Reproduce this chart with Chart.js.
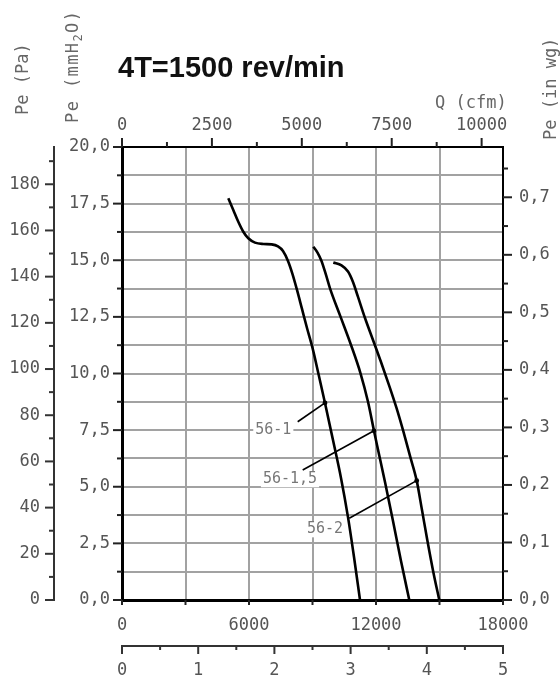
<!DOCTYPE html>
<html><head><meta charset="utf-8">
<script src="https://cdn.jsdelivr.net/npm/chart.js@4/dist/chart.umd.min.js"></script>
<style>html,body{margin:0;padding:0;background:#fff}canvas{display:block}</style>
</head><body>
<canvas id="c" width="560" height="683"></canvas>
<script>
// ---- Data (flow Q in m3/h, static pressure Pe in mmH2O) ----
const titleText = '4T=1500 rev/min';

const curve1Name = '56-1';
const curve1Q = [5022, 5258, 5494, 5731, 5967, 6283, 6676, 7072, 7370, 7606, 7842, 8055, 8268, 8504, 8740, 9000, 9283, 9590, 9968, 10346, 10677, 10961, 11244];
const curve1P = [17.74, 17.22, 16.70, 16.26, 15.97, 15.78, 15.72, 15.70, 15.61, 15.41, 14.97, 14.39, 13.69, 12.85, 12.01, 11.13, 9.98, 8.70, 7.06, 5.39, 3.66, 1.90, 0];

const curve2Name = '56-1,5';
const curve2Q = [9038, 9236, 9425, 9638, 9827, 10323, 10819, 11268, 11622, 11905, 12047, 12425, 12803, 13181, 13573];
const curve2P = [15.60, 15.34, 14.97, 14.35, 13.76, 12.51, 11.26, 10.01, 8.75, 7.47, 6.84, 5.21, 3.49, 1.72, 0];

const curve3Name = '56-2';
const curve3Q = [9983, 10370, 10677, 10913, 11150, 11480, 11858, 12236, 12614, 12968, 13299, 13606, 13923, 14173, 14423, 14707, 14990];
const curve3P = [14.90, 14.77, 14.50, 14.04, 13.38, 12.45, 11.48, 10.51, 9.49, 8.48, 7.42, 6.36, 5.27, 3.97, 2.65, 1.24, 0];

// leader lines: [marker on curve, label end]
const leaderQ = [[9590, 8300], [11905, 8537], [13923, 10737]];
const leaderP = [[8.70, 7.87], [7.47, 5.74], [5.27, 3.61]];
const labelNames = [curve1Name, curve2Name, curve3Name];
const labelQ = [7149, 7937, 9590];
const labelP = [7.51, 5.33, 3.12];

// ticks
const m3hTickValues = [0, 3000, 6000, 9000, 12000, 15000, 18000];
const m3hTickLabels = ['0', '', '6000', '', '12000', '', '18000'];
const m3sTickValues = [0, 0.5, 1, 1.5, 2, 2.5, 3, 3.5, 4, 4.5, 5];
const m3sTickLabels = ['0', '', '1', '', '2', '', '3', '', '4', '', '5'];
const cfmTickValues = [0, 1250, 2500, 3750, 5000, 6250, 7500, 8750, 10000];
const cfmTickLabels = ['0', '', '2500', '', '5000', '', '7500', '', '10000'];
const mmTickValues = [0, 1.25, 2.5, 3.75, 5, 6.25, 7.5, 8.75, 10, 11.25, 12.5, 13.75, 15, 16.25, 17.5, 18.75, 20];
const mmTickLabels = ['0,0', '', '2,5', '', '5,0', '', '7,5', '', '10,0', '', '12,5', '', '15,0', '', '17,5', '', '20,0'];
const paTickValues = [0, 10, 20, 30, 40, 50, 60, 70, 80, 90, 100, 110, 120, 130, 140, 150, 160, 170, 180, 190];
const paTickLabels = ['0', '', '20', '', '40', '', '60', '', '80', '', '100', '', '120', '', '140', '', '160', '', '180', ''];
const inwgTickValues = [0, 0.05, 0.1, 0.15, 0.2, 0.25, 0.3, 0.35, 0.4, 0.45, 0.5, 0.55, 0.6, 0.65, 0.7, 0.75];
const inwgTickLabels = ['0,0', '', '0,1', '', '0,2', '', '0,3', '', '0,4', '', '0,5', '', '0,6', '', '0,7', ''];

// unit conversions
const Q_MAX = 18000;          // m3/h
const P_MAX = 20;             // mmH2O
const M3H_PER_CFM = 1.699011;
const PA_PER_MM = 9.80665;
const MM_PER_INWG = 25.4;

// ---- Styling ----
const MONO = '"DejaVu Sans Mono", "Liberation Mono", monospace';
const tickColor = '#555';
const tickFont = {family: MONO, size: 17};

function pts(xs, ys) { return xs.map((x, i) => ({x: x, y: ys[i]})); }
function fixedTicks(values) { return s => { s.ticks = values.map(v => ({value: v})); }; }
function labelsFrom(labels) { return (v, i) => labels[i]; }

const datasets = [
  {data: pts(curve1Q, curve1P)},
  {data: pts(curve2Q, curve2P)},
  {data: pts(curve3Q, curve3P)}
].map(d => Object.assign(d, {borderColor: '#000', borderWidth: 2.6, pointRadius: 0,
  cubicInterpolationMode: 'monotone', fill: false, xAxisID: 'x', yAxisID: 'y'}));

leaderQ.forEach((q, k) => {
  datasets.push({data: pts(q, leaderP[k]), borderColor: '#000', borderWidth: 1.6,
    pointRadius: c => c.dataIndex === 0 ? 2.4 : 0, pointBackgroundColor: '#000', pointBorderWidth: 0,
    tension: 0, fill: false, xAxisID: 'x', yAxisID: 'y'});
});

const tickSpec = {
  x:  {side: 'bottom', major: 5, minor: 5, color: '#222', width: 2},
  xs: {side: 'bottom', major: 8, minor: 4, color: '#333', width: 2},
  xc: {side: 'top', major: 9, minor: 5, color: '#222', width: 2},
  y:  {side: 'left', major: 9, minor: 5, color: '#222', width: 2},
  yp: {side: 'left', major: 9, minor: 5, color: '#333', width: 2},
  yi: {side: 'right', major: 9, minor: 5, color: '#222', width: 2}
};

const decorPlugin = {
  id: 'decor',
  beforeDatasetsDraw(chart) {
    const ctx = chart.ctx, xs = chart.scales.x, ys = chart.scales.y;
    ctx.save();
    ctx.font = '15px ' + MONO;
    ctx.textAlign = 'center';
    ctx.textBaseline = 'middle';
    labelNames.forEach((t, i) => {
      const px = xs.getPixelForValue(labelQ[i]), py = ys.getPixelForValue(labelP[i]);
      const w = ctx.measureText(t).width;
      ctx.fillStyle = '#fff';
      ctx.fillRect(px - w / 2 - 2, py - 8, w + 4, 16);
      ctx.fillStyle = '#777';
      ctx.fillText(t, px, py);
    });
    ctx.restore();
  },
  afterDraw(chart) {
    const ctx = chart.ctx;
    ctx.save();
    // tick marks
    Object.keys(tickSpec).forEach(id => {
      const s = chart.scales[id], sp = tickSpec[id];
      ctx.strokeStyle = sp.color; ctx.lineWidth = sp.width; ctx.lineCap = 'butt';
      s.ticks.forEach(t => {
        const p = s.getPixelForValue(t.value);
        const len = (t.label !== '') ? sp.major : sp.minor;
        ctx.beginPath();
        if (sp.side === 'left') { ctx.moveTo(s.right - len, p); ctx.lineTo(s.right, p); }
        else if (sp.side === 'right') { ctx.moveTo(s.left, p); ctx.lineTo(s.left + len, p); }
        else if (sp.side === 'top') { ctx.moveTo(p, s.bottom - len); ctx.lineTo(p, s.bottom); }
        else { ctx.moveTo(p, s.top); ctx.lineTo(p, s.top + len); }
        ctx.stroke();
      });
    });
    // title
    ctx.fillStyle = '#111';
    ctx.font = 'bold 29px "Liberation Sans", Arial, sans-serif';
    ctx.textAlign = 'left'; ctx.textBaseline = 'alphabetic';
    ctx.fillText(titleText, 118, 77);
    // axis names
    ctx.fillStyle = '#666';
    ctx.font = '17px ' + MONO;
    ctx.textBaseline = 'middle';
    ctx.fillText('Q (cfm)', 435, 104);
    function vtext(parts, x, y, spacing) {
      ctx.save(); ctx.translate(x, y); ctx.rotate(-Math.PI / 2);
      if (spacing && 'letterSpacing' in ctx) ctx.letterSpacing = spacing;
      let cx = 0;
      parts.forEach(p => {
        ctx.font = (p.sub ? '12px ' : '17px ') + MONO;
        ctx.fillText(p.t, cx, p.sub ? 5 : 0);
        cx += ctx.measureText(p.t).width;
      });
      ctx.restore();
    }
    vtext([{t: 'Pe (Pa)'}], 24, 115);
    vtext([{t: 'Pe (mmH'}, {t: '2', sub: true}, {t: 'O)'}], 74, 123, '1.4px');
    vtext([{t: 'Pe (in wg)'}], 552, 140);
    ctx.restore();
  }
};

const gridColor = edge => c => (c.tick && edge.includes(c.tick.value)) ? 'rgba(0,0,0,0)' : '#a2a2a2';

new Chart(document.getElementById('c'), {
  type: 'line',
  data: {datasets: datasets},
  options: {
    responsive: false, animation: false, events: [],
    layout: {padding: 0},
    plugins: {legend: {display: false}, tooltip: {enabled: false}, title: {display: false}},
    scales: {
      x: {type: 'linear', position: 'bottom', weight: 0, min: 0, max: Q_MAX,
        afterBuildTicks: fixedTicks(m3hTickValues),
        afterFit: s => { s.height = 46; },
        grid: {display: true, drawTicks: false, color: gridColor([0, Q_MAX]), lineWidth: 2},
        border: {display: true, color: '#000', width: 3},
        ticks: {callback: labelsFrom(m3hTickLabels), autoSkip: false, maxRotation: 0, padding: 15, color: tickColor, font: tickFont}},
      xs: {type: 'linear', position: 'bottom', weight: 1, min: 0, max: Q_MAX / 3600,
        afterBuildTicks: fixedTicks(m3sTickValues),
        afterFit: s => { s.height = 37; },
        grid: {display: false, drawTicks: false},
        border: {display: true, color: '#333', width: 2},
        ticks: {callback: labelsFrom(m3sTickLabels), autoSkip: false, maxRotation: 0, padding: 14, color: tickColor, font: tickFont}},
      xc: {type: 'linear', position: 'top', weight: 0, min: 0, max: Q_MAX / M3H_PER_CFM,
        afterBuildTicks: fixedTicks(cfmTickValues),
        afterFit: s => { s.height = 147; },
        grid: {display: false, drawTicks: false},
        border: {display: true, color: '#000', width: 2},
        ticks: {callback: labelsFrom(cfmTickLabels), autoSkip: false, maxRotation: 0, padding: 11, color: tickColor, font: tickFont}},
      y: {type: 'linear', position: 'left', weight: 0, min: 0, max: P_MAX,
        afterBuildTicks: fixedTicks(mmTickValues),
        afterFit: s => { s.width = 68; },
        grid: {display: true, drawTicks: false, color: gridColor([0, P_MAX]), lineWidth: 2},
        border: {display: true, color: '#000', width: 3},
        ticks: {callback: labelsFrom(mmTickLabels), autoSkip: false, padding: 12, color: tickColor, font: tickFont}},
      yp: {type: 'linear', position: 'left', weight: 1, min: 0, max: P_MAX * PA_PER_MM,
        afterBuildTicks: fixedTicks(paTickValues),
        afterFit: s => { s.width = 54; },
        grid: {display: false, drawTicks: false},
        border: {display: true, color: '#333', width: 2},
        ticks: {callback: labelsFrom(paTickLabels), autoSkip: false, padding: 14, color: tickColor, font: tickFont}},
      yi: {type: 'linear', position: 'right', weight: 0, min: 0, max: P_MAX / MM_PER_INWG,
        afterBuildTicks: fixedTicks(inwgTickValues),
        afterFit: s => { s.width = 57; },
        grid: {display: false, drawTicks: false},
        border: {display: true, color: '#000', width: 2},
        ticks: {callback: labelsFrom(inwgTickLabels), autoSkip: false, padding: 16, color: tickColor, font: tickFont}}
    }
  },
  plugins: [decorPlugin]
});
</script>
</body></html>
